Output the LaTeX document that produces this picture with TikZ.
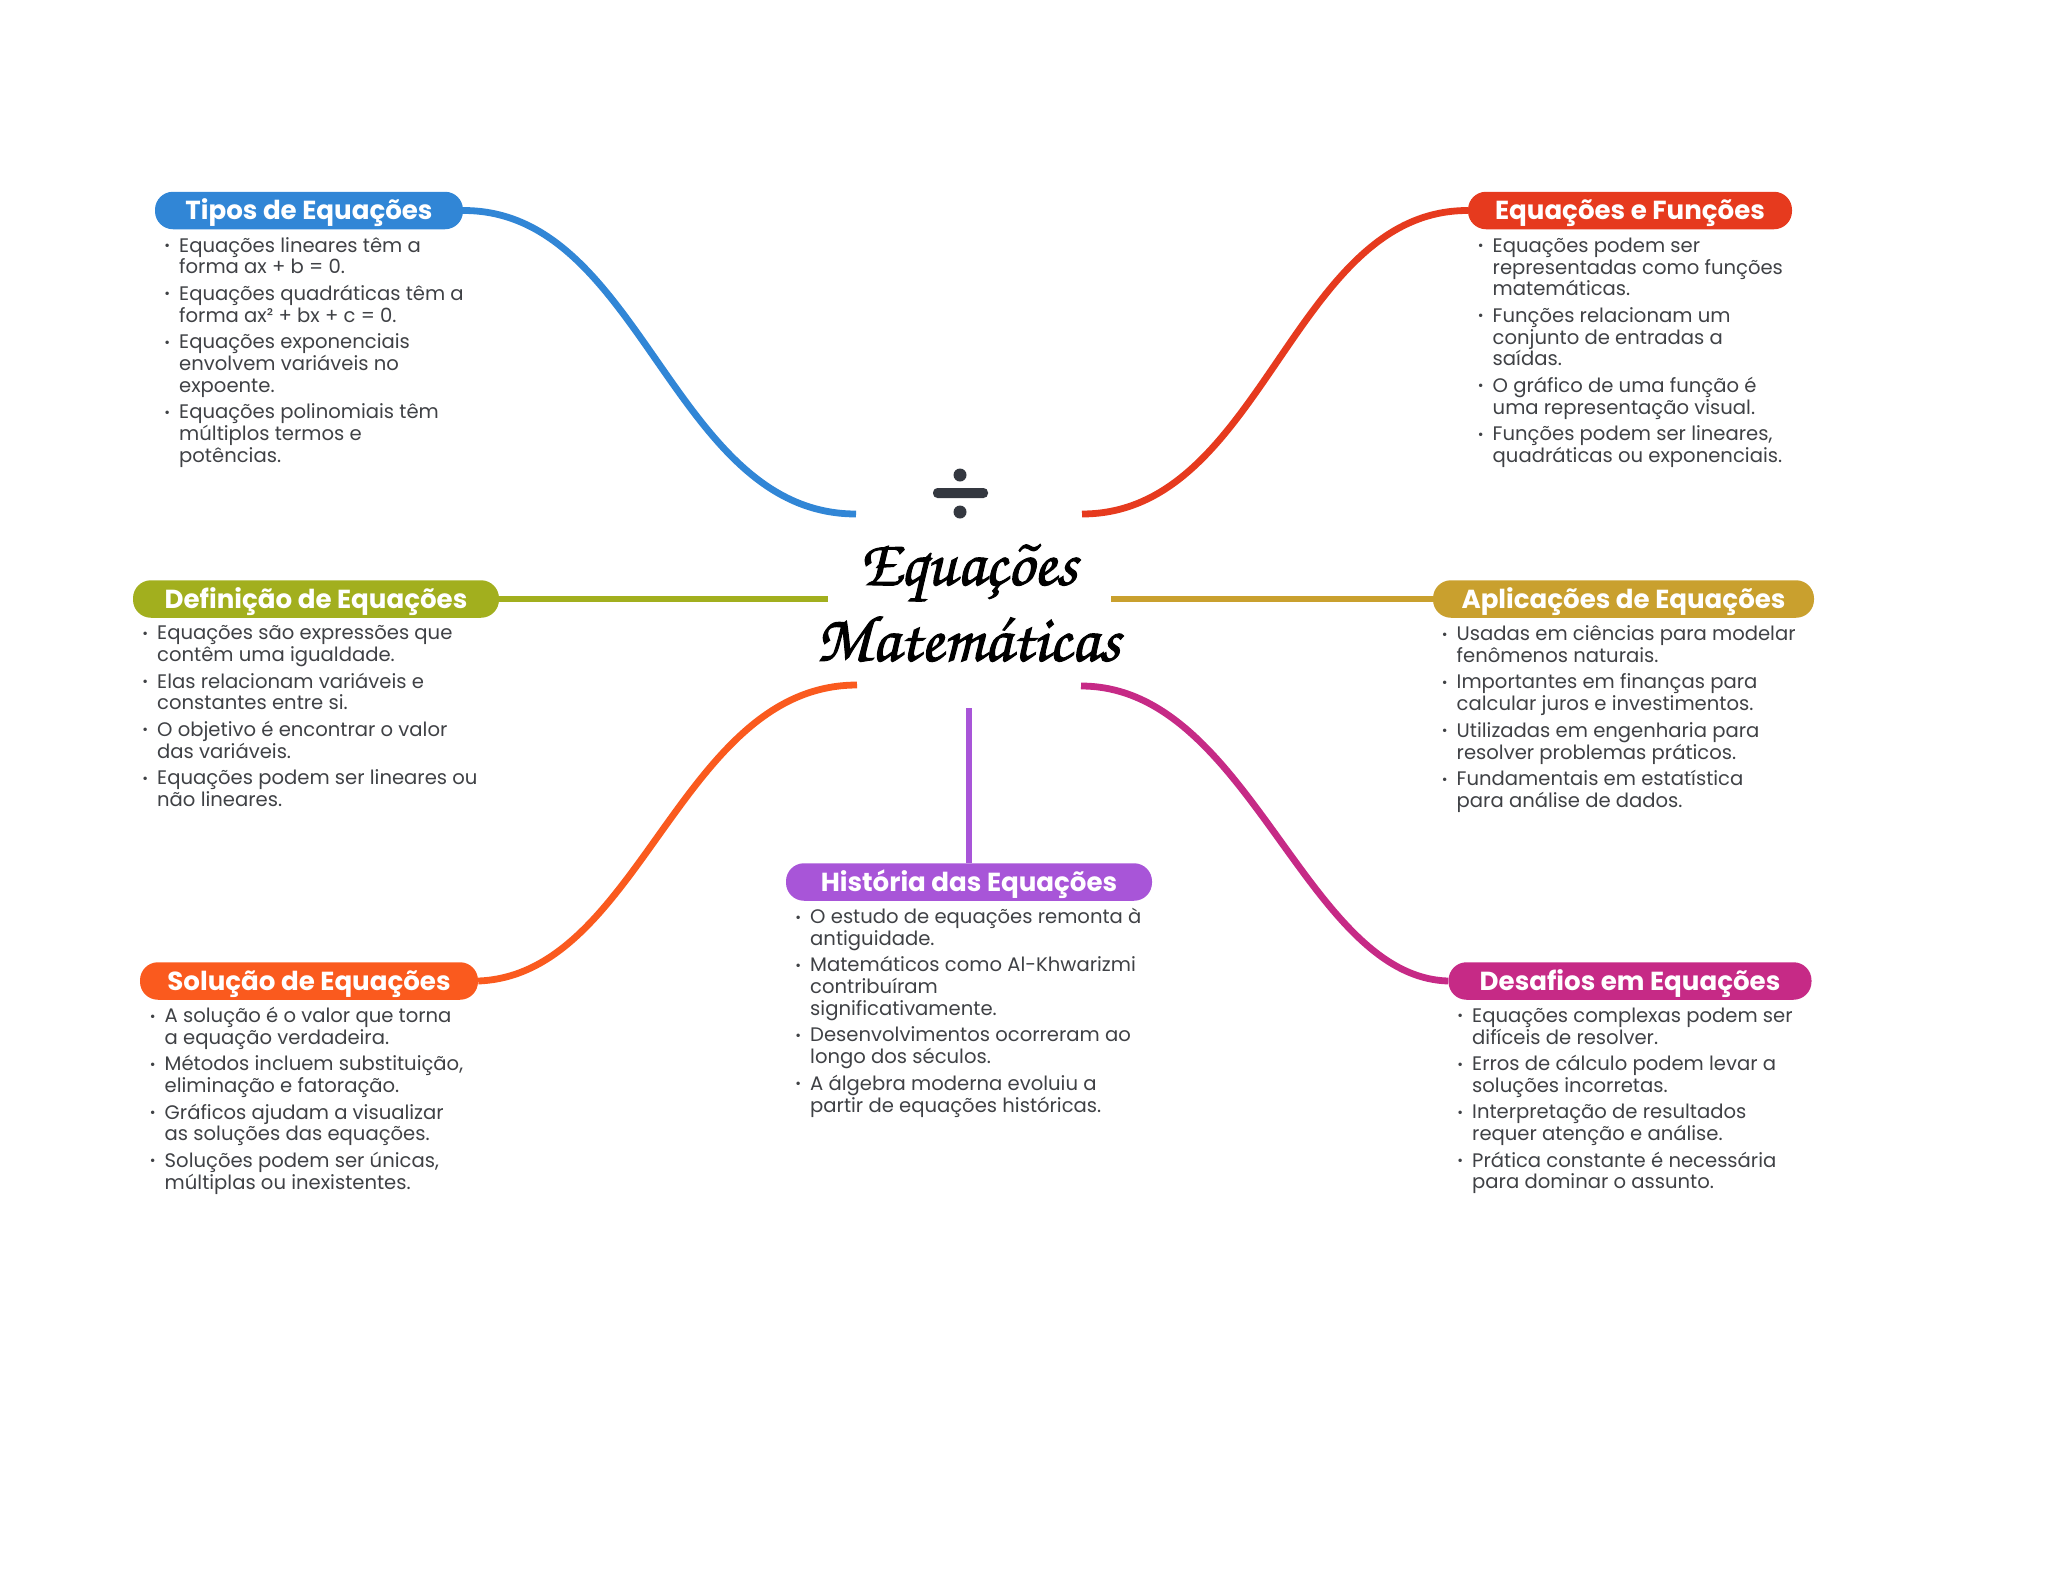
\documentclass[tikz,border=0pt]{standalone}
\usepackage{fontspec}
\setmainfont{Poppins}
\newfontfamily\mytitlefont[FakeBold=1.6]{TeX Gyre Chorus}
\definecolor{cblue}{HTML}{3186D6}
\definecolor{cred}{HTML}{E63A1E}
\definecolor{colive}{HTML}{A2AF1E}
\definecolor{cgold}{HTML}{C9A02E}
\definecolor{corange}{HTML}{FA5A1E}
\definecolor{cpurple}{HTML}{A855D8}
\definecolor{cmag}{HTML}{C62A86}
\definecolor{ctext}{HTML}{3F4145}
\definecolor{cicon}{HTML}{343840}
\newcommand{\bl}{\llap{\raisebox{1.5pt}{\fontsize{14}{14}\selectfont •}\hspace{9pt}}}
\newcommand{\gap}{\\[4.7pt]}
\tikzset{
 pill/.style={fill=#1,rounded corners=18pt,minimum height=37.5pt,inner sep=0pt,text=white,text height=24pt,text depth=6pt,font=\fontsize{26.1}{30}\selectfont\bfseries},
 body/.style={anchor=north west,inner sep=0pt,align=left,text=ctext,font=\fontsize{19.6}{21.8}\selectfont},
 link/.style={draw=#1,line width=6.8pt}
}
\begin{document}
\begin{tikzpicture}[x=1pt,y=-1pt]
\useasboundingbox (0,0) rectangle (2048,1569);
\node[pill=cblue,minimum width=308pt] (tipos) at (309,210.5) {Tipos de Equações};
\node[pill=colive,minimum width=366pt] (defi) at (316,599) {Definição de Equações};
\node[pill=corange,minimum width=338pt] (sol) at (309,981) {Solução de Equações};
\node[pill=cpurple,minimum width=366pt] (hist) at (969,882) {História das Equações};
\node[pill=cred,minimum width=324pt] (func) at (1630,210.5) {Equações e Funções};
\node[pill=cgold,minimum width=381pt] (apl) at (1623.5,599) {Aplicações de Equações};
\node[pill=cmag,minimum width=363pt] (des) at (1630,981) {Desafios em Equações};

\node[body] (ttipos) at (179,237) {\bl Equações lineares têm a\\forma ax + b = 0.\gap
\bl Equações quadráticas têm a\\forma ax² + bx + c = 0.\gap
\bl Equações exponenciais\\envolvem variáveis no\\expoente.\gap
\bl Equações polinomiais têm\\múltiplos termos e\\potências.};
\node[body] (tdefi) at (157,625.5) {\bl Equações são expressões que\\contêm uma igualdade.\gap
\bl Elas relacionam variáveis e\\constantes entre si.\gap
\bl O objetivo é encontrar o valor\\das variáveis.\gap
\bl Equações podem ser lineares ou\\não lineares.};
\node[body] (tsol) at (164.5,1007) {\bl A solução é o valor que torna\\a equação verdadeira.\gap
\bl Métodos incluem substituição,\\eliminação e fatoração.\gap
\bl Gráficos ajudam a visualizar\\as soluções das equações.\gap
\bl Soluções podem ser únicas,\\múltiplas ou inexistentes.};
\node[body] (thist) at (810,908) {\bl O estudo de equações remonta à\\antiguidade.\gap
\bl Matemáticos como Al-Khwarizmi\\contribuíram\\significativamente.\gap
\bl Desenvolvimentos ocorreram ao\\longo dos séculos.\gap
\bl A álgebra moderna evoluiu a\\partir de equações históricas.};
\node[body] (tfunc) at (1492.5,237.5) {\bl Equações podem ser\\representadas como funções\\matemáticas.\gap
\bl Funções relacionam um\\conjunto de entradas a\\saídas.\gap
\bl O gráfico de uma função é\\uma representação visual.\gap
\bl Funções podem ser lineares,\\quadráticas ou exponenciais.};
\node[body] (tapl) at (1456.5,625.5) {\bl Usadas em ciências para modelar\\fenômenos naturais.\gap
\bl Importantes em finanças para\\calcular juros e investimentos.\gap
\bl Utilizadas em engenharia para\\resolver problemas práticos.\gap
\bl Fundamentais em estatística\\para análise de dados.};
\node[body] (tdes) at (1472,1007.5) {\bl Equações complexas podem ser\\difíceis de resolver.\gap
\bl Erros de cálculo podem levar a\\soluções incorretas.\gap
\bl Interpretação de resultados\\requer atenção e análise.\gap
\bl Prática constante é necessária\\para dominar o assunto.};

\node[inner sep=0pt,font=\mytitlefont\fontsize{66}{76}\selectfont,align=center] (title) at (968,603) {Equações\\Matemáticas};

\fill[cicon] (960,475) circle (6.5);
\fill[cicon] (960,512) circle (6.5);
\fill[cicon,rounded corners=4.5pt] (933,488) rectangle (988,498);

\coordinate (ca) at (856,514);
\coordinate (cb) at (1082,514);
\coordinate (cc) at (828,599);
\coordinate (cd) at (1111,599);
\coordinate (ce) at (857,685);
\coordinate (cf) at (1081,686);
\coordinate (cg) at (969,708);

\draw[link=cblue] (tipos.east) .. controls (642,210) and (672,514) .. (ca);
\draw[link=cred] (func.west) .. controls (1292,210) and (1263,514) .. (cb);
\draw[link=colive] (defi.east) -- (cc);
\draw[link=cgold] (apl.west) -- (cd);
\draw[link=corange] (sol.east) .. controls (640,975) and (680,685) .. (ce);
\draw[link=cmag] (des.west) .. controls (1305,977) and (1249,686) .. (cf);
\draw[link=cpurple] (hist.north) -- (cg);
\end{tikzpicture}
\end{document}
